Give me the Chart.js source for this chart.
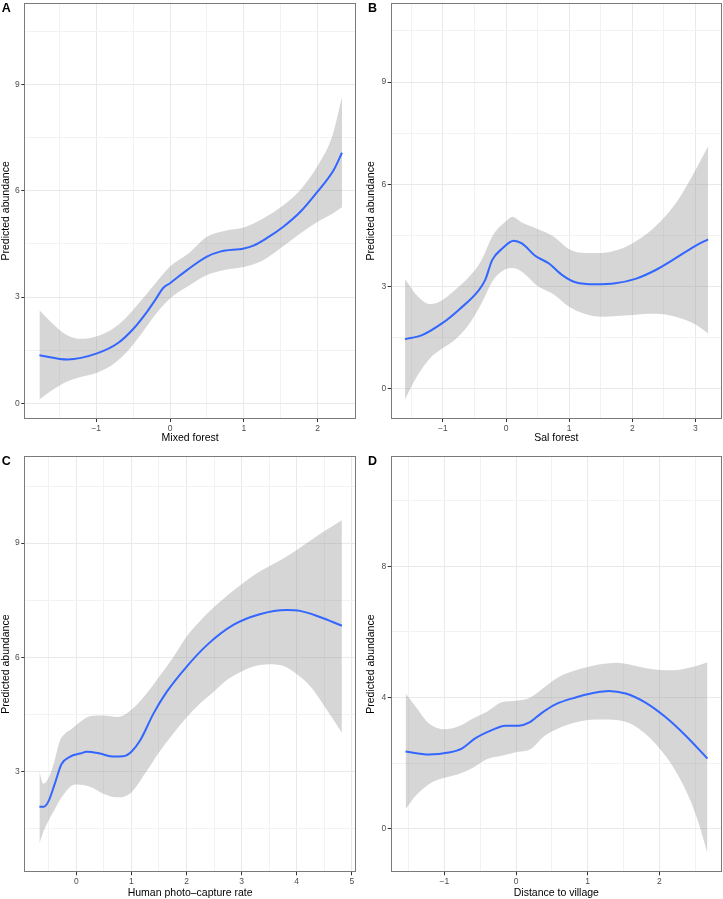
<!DOCTYPE html>
<html>
<head>
<meta charset="utf-8">
<script src="https://cdn.jsdelivr.net/npm/chart.js@4.4.1/dist/chart.umd.min.js"></script>
<style>
  body { margin: 0; background: #fff; }
  #wrap { position: relative; width: 723px; height: 899px; overflow: hidden; }
  canvas { position: absolute; }
</style>
</head>
<body>
<div id="wrap">
  <canvas id="pA" width="362" height="450" style="left:0;top:0"></canvas>
  <canvas id="pB" width="361" height="450" style="left:362px;top:0"></canvas>
  <canvas id="pC" width="362" height="459" style="left:0;top:440px"></canvas>
  <canvas id="pD" width="361" height="459" style="left:362px;top:440px"></canvas>
</div>
<script>
// ---- data ----

// A - Mixed forest
const mixedFit = [[-1.77,1.36],[-1.39,1.24],[-0.99,1.41],[-0.70,1.71],[-0.49,2.12],[-0.31,2.59],[-0.20,2.92],[-0.09,3.26],[0,3.39],[0.23,3.76],[0.50,4.14],[0.68,4.28],[1.0,4.37],[1.13,4.45],[1.31,4.66],[1.54,4.99],[1.77,5.41],[1.99,5.95],[2.22,6.59],[2.33,7.07]];
const mixedBandX = [-1.77,-1.6,-1.4,-1.2,-1.0,-0.8,-0.6,-0.4,-0.2,0,0.25,0.5,0.75,1.0,1.25,1.5,1.75,2.0,2.2,2.33];
const mixedHi = [2.63,2.27,1.93,1.82,1.89,2.07,2.41,2.88,3.38,3.86,4.23,4.70,4.87,4.96,5.20,5.53,5.98,6.70,7.55,8.65];
const mixedLo = [0.11,0.37,0.61,0.75,0.86,1.06,1.42,1.93,2.50,2.96,3.31,3.62,3.77,3.85,4.02,4.38,4.77,5.12,5.35,5.53];

// B - Sal forest
const salFit = [[-1.6,1.46],[-1.33,1.58],[-1.01,1.93],[-0.75,2.32],[-0.43,2.90],[-0.33,3.20],[-0.22,3.78],[-0.06,4.12],[0.12,4.35],[0.25,4.27],[0.46,3.91],[0.68,3.68],[0.89,3.34],[1.10,3.13],[1.42,3.07],[1.73,3.10],[2.05,3.23],[2.37,3.49],[2.68,3.83],[3.0,4.20],[3.2,4.39]];
const salBandX = [-1.6,-1.4,-1.2,-1.0,-0.8,-0.6,-0.4,-0.2,0,0.1,0.25,0.5,0.75,1.0,1.25,1.5,1.75,2.0,2.25,2.5,2.75,3.0,3.2];
const salHi = [3.22,2.72,2.49,2.62,2.92,3.26,3.74,4.53,4.92,5.05,4.88,4.69,4.47,4.10,3.99,3.99,4.07,4.27,4.58,5.02,5.62,6.42,7.12];
const salLo = [-0.30,0.40,0.91,1.20,1.46,1.86,2.47,3.20,3.52,3.55,3.44,3.02,2.78,2.41,2.20,2.12,2.14,2.17,2.21,2.19,2.08,1.89,1.63];

// C - Human photo-capture rate
const humanFit = [[-0.67,2.07],[-0.60,2.07],[-0.51,2.20],[-0.39,2.68],[-0.27,3.19],[-0.11,3.39],[0.07,3.47],[0.19,3.52],[0.43,3.47],[0.67,3.39],[0.85,3.40],[1.0,3.52],[1.16,3.82],[1.40,4.52],[1.64,5.09],[2.0,5.75],[2.37,6.32],[2.85,6.85],[3.33,7.13],[3.81,7.24],[4.06,7.22],[4.42,7.06],[4.82,6.83]];
const humanBandX = [-0.67,-0.6,-0.5,-0.4,-0.3,-0.2,-0.1,0,0.25,0.5,0.75,1.0,1.25,1.5,1.75,2.0,2.25,2.5,2.75,3.0,3.25,3.5,3.75,4.0,4.25,4.5,4.82];
const humanHi = [2.99,2.68,2.84,3.25,3.80,4.00,4.10,4.22,4.45,4.47,4.43,4.62,5.00,5.48,5.98,6.54,6.96,7.32,7.64,7.92,8.18,8.39,8.59,8.82,9.07,9.31,9.60];
const humanLo = [1.11,1.41,1.72,1.98,2.25,2.45,2.61,2.66,2.60,2.41,2.32,2.45,2.95,3.50,3.98,4.42,4.79,5.10,5.42,5.63,5.77,5.82,5.78,5.56,5.23,4.72,4.02];

// D - Distance to village
const villageFit = [[-1.54,2.35],[-1.22,2.26],[-0.94,2.32],[-0.75,2.45],[-0.57,2.75],[-0.33,3.01],[-0.15,3.14],[0.04,3.14],[0.18,3.23],[0.36,3.53],[0.55,3.79],[0.83,4.0],[1.11,4.15],[1.29,4.20],[1.53,4.12],[1.80,3.85],[2.08,3.41],[2.36,2.85],[2.67,2.14]];
const villageBandX = [-1.54,-1.4,-1.2,-1.0,-0.8,-0.6,-0.4,-0.2,0,0.2,0.4,0.6,0.8,1.0,1.2,1.4,1.6,1.8,2.0,2.2,2.4,2.55,2.67];
const villageHi = [4.12,3.72,3.18,3.03,3.12,3.36,3.57,3.85,3.90,4.00,4.32,4.63,4.81,4.93,5.02,5.06,5.00,4.90,4.84,4.83,4.90,4.98,5.07];
const villageLo = [0.59,1.00,1.38,1.55,1.67,1.86,2.12,2.22,2.33,2.42,2.83,3.07,3.22,3.31,3.33,3.31,3.20,2.90,2.45,1.85,1.02,0.15,-0.75];

// ---- tick positions ----
const yMajor39 = [0, 3, 6, 9];
const yMinor39 = [1.5, 4.5, 7.5, 10.5];
const yMajorC = [3, 6, 9];
const yMajorD = [0, 4, 8];
const yMinorD = [2, 6, 10];
const xMajorA = [-1, 0, 1, 2];
const xMinorA = [-1.5, -0.5, 0.5, 1.5];
const xMajorB = [-1, 0, 1, 2, 3];
const xMinorB = [-1.5, -0.5, 0.5, 1.5, 2.5];
const xMajorC = [0, 1, 2, 3, 4, 5];
const xMinorC = [-0.5, 0.5, 1.5, 2.5, 3.5, 4.5];
const xMajorD = [-1, 0, 1, 2];
const xMinorD = [-1.5, -0.5, 0.5, 1.5, 2.5];

const FONT = "'Liberation Sans', Arial, Helvetica, sans-serif";

const framePlugin = {
  id: 'frame',
  afterDatasetsDraw(chart, args, opts) {
    const { ctx, chartArea: a } = chart;
    ctx.save();
    ctx.strokeStyle = '#7a7a7a';
    ctx.lineWidth = 1;
    const l = Math.round(a.left) + 0.5, t = Math.round(a.top) + 0.5;
    ctx.strokeRect(l, t, Math.round(a.right) - 1 - l + 0.5, Math.round(a.bottom) - t - 0.5);
    ctx.restore();
  },
  afterDraw(chart, args, opts) {
    const { ctx, chartArea: a } = chart;
    ctx.save();
    ctx.fillStyle = '#000';
    ctx.font = 'bold 12.5px ' + FONT;
    ctx.textBaseline = 'alphabetic';
    ctx.fillText(opts.letter, opts.letterX, a.top + 9);
    ctx.restore();
  }
};

function fmt(v) {
  return v < 0 ? '\u2212' + Math.abs(v) : String(v);
}

function axis(major, minor, min, max, title, size) {
  const all = major.concat(minor).sort((p, q) => p - q);
  const isMajor = c => c.tick && major.includes(c.tick.value);
  return {
    type: 'linear',
    min: min,
    max: max,
    afterBuildTicks: s => { s.ticks = all.map(v => ({ value: v })); },
    afterFit: s => {
      if (s.isHorizontal()) { s.height = size; } else { s.width = size; }
      s.paddingLeft = 0; s.paddingRight = 0; s.paddingTop = 0; s.paddingBottom = 0;
    },
    border: { display: false },
    grid: {
      color: c => isMajor(c) ? '#e9e9e9' : '#f2f2f2',
      lineWidth: 1,
      tickLength: 3,
      tickColor: c => isMajor(c) ? '#333333' : 'rgba(0,0,0,0)',
      tickWidth: 1
    },
    ticks: {
      autoSkip: false,
      maxRotation: 0,
      padding: 1.5,
      color: '#4d4d4d',
      font: { family: FONT, size: 8.5 },
      callback: v => major.includes(v) ? fmt(v) : ''
    },
    title: {
      display: true,
      text: title,
      color: '#000',
      padding: 0,
      font: { family: FONT, size: 10.5 }
    }
  };
}

function makePanel(p) {
  const band = (ys) => p.bandX.map((x, i) => ({ x: x, y: ys[i] }));
  new Chart(document.getElementById(p.id), {
    type: 'line',
    data: {
      datasets: [
        {
          data: band(p.lo),
          order: 2,
          borderColor: 'transparent', borderWidth: 0,
          pointRadius: 0, fill: false,
          cubicInterpolationMode: 'monotone'
        },
        {
          data: band(p.hi),
          order: 1,
          borderColor: 'transparent', borderWidth: 0,
          pointRadius: 0, fill: '-1',
          backgroundColor: 'rgba(153,153,153,0.4)',
          cubicInterpolationMode: 'monotone'
        },
        {
          data: p.fit.map(d => ({ x: d[0], y: d[1] })),
          order: 0,
          borderColor: '#3366ff', borderWidth: 2,
          pointRadius: 0, fill: false,
          cubicInterpolationMode: 'monotone'
        }
      ]
    },
    options: {
      responsive: false,
      animation: false,
      events: [],
      layout: { padding: p.pad },
      scales: {
        x: axis(p.xMajor, p.xMinor, p.xMin, p.xMax, p.xTitle, p.xHeight),
        y: axis(p.yMajor, p.yMinor, p.yMin, p.yMax, 'Predicted abundance', p.yWidth)
      },
      plugins: {
        legend: { display: false },
        tooltip: { enabled: false },
        frame: { letter: p.letter, letterX: p.letterX }
      }
    },
    plugins: [framePlugin]
  });
}

makePanel({
  id: 'pA', letter: 'A', letterX: 1.7, xTitle: 'Mixed forest',
  fit: mixedFit, bandX: mixedBandX, hi: mixedHi, lo: mixedLo,
  xMin: -1.975, xMax: 2.52, yMin: -0.44, yMax: 11.3,
  xMajor: xMajorA, xMinor: xMinorA, yMajor: yMajor39, yMinor: yMinor39,
  pad: { left: 0, right: 6, top: 2.7, bottom: 6 }, yWidth: 24.3, xHeight: 25
});
makePanel({
  id: 'pB', letter: 'B', letterX: 6, xTitle: 'Sal forest',
  fit: salFit, bandX: salBandX, hi: salHi, lo: salLo,
  xMin: -1.827, xMax: 3.42, yMin: -0.88, yMax: 11.33,
  xMajor: xMajorB, xMinor: xMinorB, yMajor: yMajor39, yMinor: yMinor39,
  pad: { left: 3.2, right: 1, top: 2.7, bottom: 6 }, yWidth: 25.5, xHeight: 25
});
makePanel({
  id: 'pC', letter: 'C', letterX: 1.7, xTitle: 'Human photo\u2013capture rate',
  fit: humanFit, bandX: humanBandX, hi: humanHi, lo: humanLo,
  xMin: -0.944, xMax: 5.076, yMin: 0.35, yMax: 11.29,
  xMajor: xMajorC, xMinor: xMinorC, yMajor: yMajorC, yMinor: yMinor39,
  pad: { left: 0, right: 6, top: 16, bottom: 0 }, yWidth: 24.3, xHeight: 26.7
});
makePanel({
  id: 'pD', letter: 'D', letterX: 6, xTitle: 'Distance to village',
  fit: villageFit, bandX: villageBandX, hi: villageHi, lo: villageLo,
  xMin: -1.748, xMax: 2.873, yMin: -1.33, yMax: 11.36,
  xMajor: xMajorD, xMinor: xMinorD, yMajor: yMajorD, yMinor: yMinorD,
  pad: { left: 3.2, right: 1, top: 16, bottom: 0 }, yWidth: 25.5, xHeight: 26.7
});
</script>
</body>
</html>
